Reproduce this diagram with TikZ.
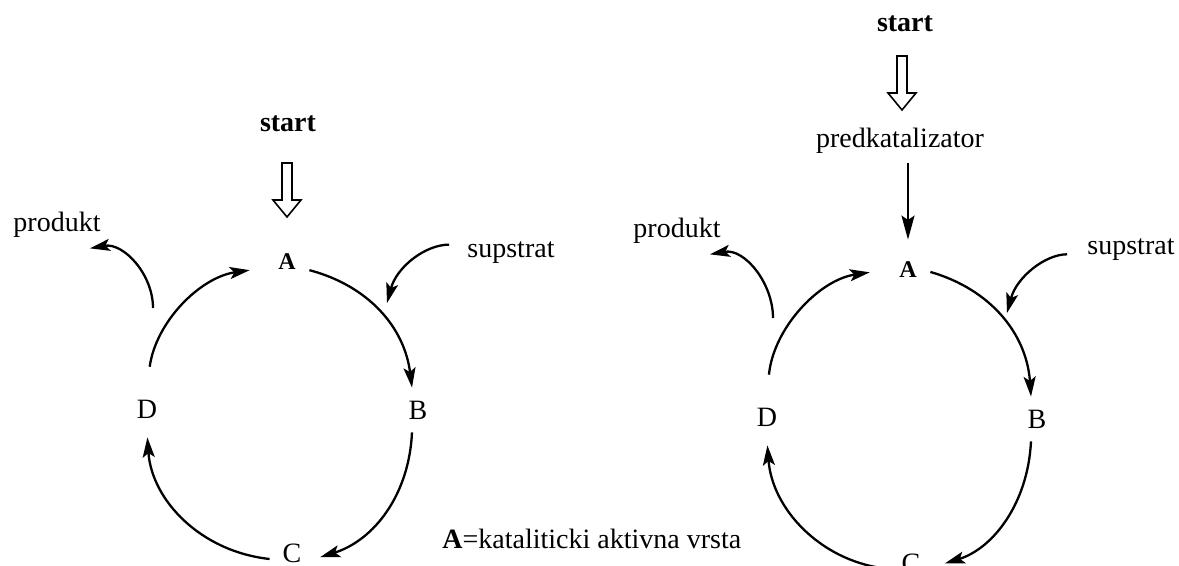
\documentclass[tikz,border=0pt]{standalone}
\usepackage{fontspec}
\setmainfont{Liberation Serif}
\usetikzlibrary{positioning,arrows.meta}
\tikzset{
  txt/.style={font=\fontsize{14}{16}\selectfont,inner sep=2pt,anchor=base},
  bold/.style={txt,font=\fontsize{14}{16}\selectfont\bfseries},
  prod/.style={txt,inner sep=5pt},
  spec/.style={font=\fontsize{14}{16}\selectfont,minimum size=22pt,inner sep=0pt},
  catal/.style={spec,font=\fontsize{12}{14}\selectfont\bfseries},
  cyc/.style={line width=1.15pt,-{Stealth[length=10pt,width=6pt,inset=2.2pt]}},
  feed/.style={line width=1.2pt,-{Stealth[length=12pt,width=6.5pt,inset=2.2pt]}},
  hollowarr/.pic={\draw[line width=0.8pt,fill=white] (-5,0) -- (-5,-37) -- (-14,-37)
    -- (0,-54) -- (14,-37) -- (5,-37) -- (5,0) -- cycle;},
}
\begin{document}
\begin{tikzpicture}[x=0.5pt,y=0.5pt]
  \useasboundingbox (0,0) rectangle (1179,-566);
  % left cycle
  \node[bold] (startL) at (288,-132) {start};
  \pic at (287,-163) {hollowarr};
  \node[catal] (AL) at (287,-262) {A};
  \node[spec] (BL) at (418,-410) {B};
  \node[spec] (CL) at (292,-553) {C};
  \node[spec] (DL) at (147,-409) {D};
  \node[prod] (prodL) at (57,-232) {produkt};
  \node[txt] (supL) at (511,-258) {supstrat};
  \node[txt,anchor=base west] (key) at (438,-549) {\textbf{A}=kataliticki aktivna vrsta};
  \coordinate (lp) at (153,-308);
  \coordinate (ls) at (387,-303);
  \draw[cyc] (AL.-20) to[bend left=34] (BL.105);
  \draw[cyc,shorten >=3pt] (BL.-105) to[bend left=35] (CL.-15);
  \draw[cyc,shorten >=3pt] (CL.-165) to[bend left=40] (DL.south);
  \draw[cyc,shorten <=10pt,shorten >=7.5pt] (DL.north) to[bend left=37] (AL.-165);
  \draw[cyc] (lp) to[out=90,in=10] (prodL.-35);
  \draw[cyc,shorten <=7pt] (supL.170) to[out=180,in=75] (ls);
  % right cycle
  \node[bold] (startR) at (905,-32) {start};
  \pic at (902,-56) {hollowarr};
  \node[txt] (pred) at (900,-148) {predkatalizator};
  \node[catal] (AR) at (908,-270) {A};
  \node[spec] (BR) at (1037,-419) {B};
  \node[spec] (CR) at (911,-563) {C};
  \node[spec] (DR) at (767,-417) {D};
  \node[prod] (prodR) at (677,-238) {produkt};
  \node[txt] (supR) at (1131,-255) {supstrat};
  \coordinate (rp) at (773,-318);
  \coordinate (rs) at (1007,-313);
  \draw[feed,shorten <=2.5pt,shorten >=4pt] (pred.south -| AR.north) -- (AR.north);
  \draw[cyc] (AR.-5) to[bend left=35] (BR.105);
  \draw[cyc,shorten >=6pt] (BR.-105) to[bend left=35] (CR.-10);
  \draw[cyc,shorten <=3pt,shorten >=3pt] (CR.-165) to[bend left=39] (DR.south);
  \draw[cyc,shorten <=10pt,shorten >=8pt] (DR.north) to[bend left=38] (AR.west);
  \draw[cyc] (rp) to[out=90,in=10] (prodR.-35);
  \draw[cyc,shorten <=8pt] (supR.-175) to[out=180,in=75] (rs);
\end{tikzpicture}
\end{document}
